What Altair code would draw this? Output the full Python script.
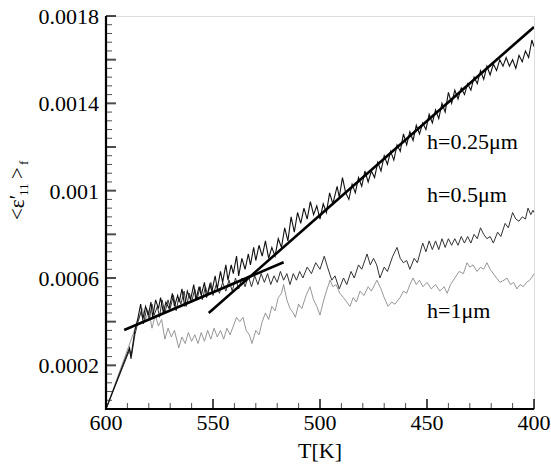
import altair as alt
import pandas as pd

# ---------------- data (T [K], <eps'11>_f) ----------------
h025 = [(600, 0.0), (589, 0.00028), (588.3, 0.00024), (586.5, 0.00036), (585, 0.00042),
        (583.8, 0.00048), (582.8, 0.00041), (581.5, 0.00047), (580.2, 0.00043), (579, 0.00049),
        (578.2, 0.00042), (576.8, 0.00050), (575.5, 0.00046), (574.5, 0.00051), (573.2, 0.00044),
        (572, 0.00049), (570.5, 0.00046), (569, 0.00053), (568, 0.00047), (566.5, 0.00052),
        (565.8, 0.00049), (564.5, 0.00055), (563.2, 0.00047), (562, 0.00054), (560.5, 0.00050),
        (559, 0.00057), (558, 0.00050), (556.5, 0.00056), (555.5, 0.00052), (554, 0.00058),
        (553, 0.00051), (551.5, 0.00057), (550.5, 0.00054), (549, 0.00061), (548, 0.00055),
        (546.5, 0.00063), (545.5, 0.00058), (544, 0.00066), (543, 0.00059), (541.5, 0.00066),
        (540.5, 0.00062), (539, 0.00070), (538, 0.00061), (536.5, 0.00069), (535, 0.00064),
        (533.5, 0.00071), (532.5, 0.00066), (531, 0.00074), (530, 0.00068), (528.5, 0.00075),
        (527, 0.00070), (525.5, 0.00077), (524, 0.00069), (522.5, 0.00074), (521, 0.00070),
        (519.5, 0.00078), (518, 0.00074), (516.5, 0.00083), (515, 0.00077), (513.5, 0.00088),
        (512, 0.00081), (510.5, 0.00090), (509, 0.00085), (507.5, 0.00092), (506, 0.00087),
        (504.5, 0.00095), (503, 0.00089), (501.5, 0.00093), (500, 0.00087), (498.5, 0.00094),
        (497, 0.00090), (495.5, 0.00099), (494, 0.00094), (492, 0.00102), (491, 0.00097),
        (489.5, 0.00106), (488, 0.00099), (486.5, 0.00096), (485, 0.00103), (483.5, 0.00099),
        (482, 0.00106), (480.5, 0.00102), (479, 0.00109), (477.5, 0.00104), (476, 0.00109),
        (474.5, 0.00106), (473, 0.00113), (471.5, 0.00109), (470, 0.00116), (468.5, 0.00112),
        (467, 0.00118), (465.5, 0.00114), (464, 0.00121), (462.5, 0.00118), (461, 0.00126),
        (459.5, 0.00121), (458, 0.00127), (456.5, 0.00123), (455, 0.00130), (453.5, 0.00126),
        (452, 0.00131), (450.5, 0.00128), (449, 0.00135), (447.5, 0.00131), (446, 0.00137),
        (444.5, 0.00133), (443, 0.00140), (441.5, 0.00136), (440, 0.00145), (438.5, 0.00140),
        (437, 0.00146), (435.5, 0.00142), (434, 0.00147), (432.5, 0.00144), (431, 0.00149),
        (429.5, 0.00146), (428, 0.00152), (426.5, 0.00149), (425, 0.00155), (423.5, 0.00151),
        (422, 0.00157), (420.5, 0.00153), (419, 0.00158), (417.5, 0.00155), (416, 0.00160),
        (414.5, 0.00157), (413, 0.00161), (411.5, 0.00157), (410, 0.00160), (408.5, 0.00156),
        (407, 0.00162), (405.5, 0.00159), (404, 0.00164), (402.5, 0.00161), (401, 0.00169),
        (400, 0.00166)]

h05 = [(600, 0.0), (589, 0.00027), (588.3, 0.00023), (586.5, 0.00034), (585, 0.00040),
       (583.5, 0.00045), (582.5, 0.00039), (581, 0.00046), (579.8, 0.00041), (578.5, 0.00048),
       (577.5, 0.00043), (576, 0.00047), (575, 0.00042), (573.8, 0.00050), (572.5, 0.00044),
       (571, 0.00050), (570, 0.00046), (568.5, 0.00052), (567.2, 0.00045), (566, 0.00051),
       (565, 0.00048), (563.5, 0.00054), (562.5, 0.00047), (561, 0.00053), (560, 0.00049),
       (558.5, 0.00055), (557.5, 0.00050), (556, 0.00056), (555, 0.00050), (553.5, 0.00056),
       (552.5, 0.00052), (551, 0.00058), (550, 0.00052), (548.5, 0.00057), (547, 0.00053),
       (545.5, 0.00058), (544, 0.00054), (542.5, 0.00059), (541, 0.00054), (539.5, 0.00060),
       (538, 0.00055), (536.5, 0.00060), (535, 0.00056), (533.5, 0.00061), (532, 0.00056),
       (530.5, 0.00061), (529, 0.00057), (527.5, 0.00062), (526, 0.00058), (524.5, 0.00062),
       (523, 0.00057), (521.5, 0.00061), (520, 0.00058), (518.5, 0.00063), (517, 0.00059),
       (515.5, 0.00062), (514, 0.00057), (512.5, 0.00062), (511, 0.00059), (509.5, 0.00063),
       (508, 0.00060), (506, 0.00065), (504, 0.00062), (502, 0.00067), (500, 0.00064),
       (498, 0.00070), (496.5, 0.00065), (494.5, 0.00059), (493, 0.00061), (491, 0.00055),
       (489, 0.00060), (487.5, 0.00057), (485.5, 0.00063), (484, 0.00060), (482, 0.00066),
       (480.5, 0.00064), (478, 0.00071), (476.5, 0.00066), (475, 0.00069), (473.5, 0.00066),
       (472, 0.00060), (470, 0.00065), (468.5, 0.00063), (466, 0.00070), (464, 0.00074),
       (462.5, 0.00069), (461, 0.00067), (459.5, 0.00068), (458, 0.00064), (456, 0.00069),
       (454.5, 0.00067), (452, 0.00076), (450.5, 0.00072), (449, 0.00077), (447.5, 0.00073),
       (446, 0.00077), (444.5, 0.00073), (443, 0.00078), (441.5, 0.00074), (440, 0.00078),
       (438.5, 0.00075), (437, 0.00078), (435.5, 0.00075), (434, 0.00079), (432.5, 0.00076),
       (431, 0.00079), (429.5, 0.00076), (428, 0.00080), (426.5, 0.00078), (425, 0.00083),
       (423.5, 0.00080), (422, 0.00078), (420.5, 0.00079), (419, 0.00076), (417, 0.00081),
       (415.5, 0.00079), (413.5, 0.00085), (412, 0.00083), (410, 0.00090), (408.5, 0.00087),
       (407, 0.00086), (405.5, 0.00088), (404, 0.00087), (402.8, 0.00092), (401.5, 0.00089),
       (400.5, 0.00091), (400, 0.00090)]

h1 = [(600, 0.0), (583, 0.00046), (581.5, 0.00041), (580, 0.00045), (578.5, 0.00037),
      (577, 0.00043), (575.5, 0.00038), (574, 0.00041), (572.5, 0.00032), (571, 0.00037),
      (569.5, 0.00033), (568, 0.00036), (566, 0.00028), (564.5, 0.00033), (563, 0.00030),
      (561.5, 0.00035), (560, 0.00031), (558.5, 0.00034), (557, 0.00030), (555.5, 0.00035),
      (554, 0.00031), (552.5, 0.00036), (551, 0.00032), (549.5, 0.00037), (548, 0.00033),
      (546.5, 0.00036), (545, 0.00032), (543.5, 0.00037), (542, 0.00034), (540.5, 0.00038),
      (539, 0.00042), (537.5, 0.00040), (536, 0.00042), (534.5, 0.00036), (533, 0.00034),
      (531.8, 0.00030), (530, 0.00036), (528.5, 0.00034), (527, 0.00040), (525.5, 0.00044),
      (524, 0.00041), (522.5, 0.00047), (521, 0.00045), (519.5, 0.00051), (518, 0.00053),
      (517, 0.00057), (515.5, 0.00050), (514, 0.00046), (512.5, 0.00044), (511.5, 0.00042),
      (510, 0.00048), (508.5, 0.00046), (506.5, 0.00052), (504.7, 0.00056), (503, 0.00050),
      (501.5, 0.00047), (500, 0.00043), (498.5, 0.00049), (497, 0.00054), (495.3, 0.00059),
      (494, 0.00056), (492.5, 0.00057), (490.7, 0.00053), (489, 0.00051), (487.5, 0.00049),
      (486, 0.00047), (484.5, 0.00051), (483, 0.00049), (481.3, 0.00054), (479.5, 0.00052),
      (477.5, 0.00056), (476, 0.00054), (473.4, 0.00059), (471.5, 0.00055), (470, 0.00051),
      (468.2, 0.00047), (466.5, 0.00049), (465, 0.00048), (462.6, 0.00051), (461, 0.00054),
      (459.5, 0.00053), (458, 0.00057), (456.5, 0.00060), (455, 0.00057), (453.5, 0.00059),
      (451.9, 0.00056), (450, 0.00058), (448, 0.00055), (446, 0.00057), (444, 0.00054),
      (442, 0.00056), (440.6, 0.00053), (439, 0.00057), (437, 0.00060), (435, 0.00063),
      (433, 0.00062), (431.3, 0.00067), (430, 0.00065), (428.5, 0.00066), (426.6, 0.00063),
      (425, 0.00065), (423.5, 0.00064), (422, 0.00067), (420.5, 0.00064), (419, 0.00062),
      (417.5, 0.00060), (415.9, 0.00058), (414, 0.00059), (412.6, 0.00060), (411, 0.00057),
      (409.5, 0.00058), (408, 0.00055), (406.5, 0.00057), (405, 0.00056), (403.5, 0.00058),
      (402, 0.00059), (400.5, 0.00061), (400, 0.00062)]

# straight fit lines (two end points each)
fit1 = [(591.5, 0.000362), (517, 0.000672)]
fit2 = [(552, 0.00044), (400, 0.00175)]

# curve labels
label_text = ["h=0.25μm", "h=0.5μm", "h=1μm"]
label_T = [450, 450, 450]
label_E = [0.001223, 0.00098, 0.000449]

# axis ticks / labels
x_major = [600, 550, 500, 450, 400]
x_major_text = ["600", "550", "500", "450", "400"]
x_minor = [590, 580, 570, 560, 540, 530, 520, 510, 490, 480, 470, 460, 440, 430, 420, 410]
y_labels = [0.0002, 0.0006, 0.001, 0.0014, 0.0018]
y_labels_text = ["0.0002", "0.0006", "0.001", "0.0014", "0.0018"]
y_major = [0.0, 0.0002, 0.0004, 0.0006, 0.0008, 0.001, 0.0012, 0.0014, 0.0016, 0.0018]
y_minor = [round(i * 0.00004, 6) for i in range(46) if i % 5 != 0]

FONT = "Liberation Serif, Times New Roman, serif"
W, H = 428, 393

xs = alt.Scale(domain=[400, 600], reverse=True, nice=False, zero=False)
ys = alt.Scale(domain=[0, 0.0018], nice=False, zero=False)


def X(field="T:Q"):
    return alt.X(field, scale=xs, axis=None)


def Y(field="E:Q"):
    return alt.Y(field, scale=ys, axis=None)


def line(pairs, color, width):
    df = pd.DataFrame(pairs, columns=["T", "E"])
    return alt.Chart(df).mark_line(color=color, strokeWidth=width, clip=True).encode(x=X(), y=Y())


# first layer carries the axis lines (no labels, no ticks)
base_axes = alt.Chart(pd.DataFrame({"T": [600], "E": [0.0]})).mark_point(opacity=0).encode(
    x=alt.X("T:Q", scale=xs, title=None,
            axis=alt.Axis(labels=False, ticks=False, grid=False, domainColor="black", domainWidth=2.2)),
    y=alt.Y("E:Q", scale=ys, title=None,
            axis=alt.Axis(labels=False, ticks=False, grid=False, domainColor="black", domainWidth=2.2)),
)

# inward ticks placed with the scales
xt_major = alt.Chart(pd.DataFrame({"T": x_major})).mark_tick(
    color="black", thickness=2, size=10, orient="vertical").encode(x=X(), y=alt.value(H - 5))
xt_minor = alt.Chart(pd.DataFrame({"T": x_minor})).mark_tick(
    color="black", thickness=1, size=6, orient="vertical").encode(x=X(), y=alt.value(H - 3))
yt_major = alt.Chart(pd.DataFrame({"E": y_major})).mark_tick(
    color="black", thickness=2, size=10, orient="horizontal").encode(y=Y(), x=alt.value(5))
yt_minor = alt.Chart(pd.DataFrame({"E": y_minor})).mark_tick(
    color="black", thickness=1, size=6, orient="horizontal").encode(y=Y(), x=alt.value(3))

one = pd.DataFrame({"k": [0]})
dom_left = alt.Chart(one).mark_rule(color="black", strokeWidth=2.2).encode(
    x=alt.value(0), y=alt.value(0), y2=alt.value(H + 1))
dom_bottom = alt.Chart(one).mark_rule(color="black", strokeWidth=2.2).encode(
    x=alt.value(-1), x2=alt.value(W), y=alt.value(H))

l1 = line(h1, "#8a8a8a", 0.9)
l05 = line(h05, "#333333", 1.0)
l025 = line(h025, "#111111", 1.1)
f1 = line(fit1, "black", 2.6)
f2 = line(fit2, "black", 2.6)

lab_df = pd.DataFrame({"T": label_T, "E": label_E, "txt": label_text})
labels = alt.Chart(lab_df).mark_text(
    font=FONT, fontSize=22, align="left", baseline="middle", color="black").encode(
    x=X(), y=Y(), text="txt:N")


def piece(txt, px, py, size):
    return alt.Chart(pd.DataFrame({"s": [txt]})).mark_text(
        font=FONT, fontSize=size, angle=270, align="left", baseline="alphabetic", color="black").encode(
        x=alt.value(px), y=alt.value(py), text="s:N")


ytitle = (piece("<ε′", -82, 204, 21) + piece("11", -78, 180, 13) +
          piece(">", -82, 163, 21) + piece("f", -78, 149, 13))

# tick labels and axis title
x_lab = alt.Chart(pd.DataFrame({"T": x_major, "s": x_major_text})).mark_text(
    font=FONT, fontSize=22, align="center", baseline="alphabetic", color="black").encode(
    x=X(), y=alt.value(H + 21), text="s:N")
y_lab = alt.Chart(pd.DataFrame({"E": y_labels, "s": y_labels_text})).mark_text(
    font=FONT, fontSize=22, align="right", baseline="alphabetic", dy=8, color="black").encode(
    y=Y(), x=alt.value(-7), text="s:N")
x_title = alt.Chart(pd.DataFrame({"s": ["T[K]"]})).mark_text(
    font=FONT, fontSize=22, align="center", baseline="alphabetic", color="black").encode(
    x=alt.value(W / 2), y=alt.value(H + 49), text="s:N")

chart = alt.layer(base_axes, xt_major, xt_minor, yt_major, yt_minor, l1, l05, l025, f1, f2,
                  dom_left, dom_bottom, labels, ytitle, x_lab, y_lab, x_title).properties(
    width=W, height=H,
    autosize=alt.AutoSizeParams(type="none"),
    padding={"left": 106, "top": 16, "right": 17, "bottom": 59},
    background="white",
).configure_view(stroke=None).configure(font=FONT)

chart.save("out.html", embed_options={"renderer": "svg", "actions": False})
